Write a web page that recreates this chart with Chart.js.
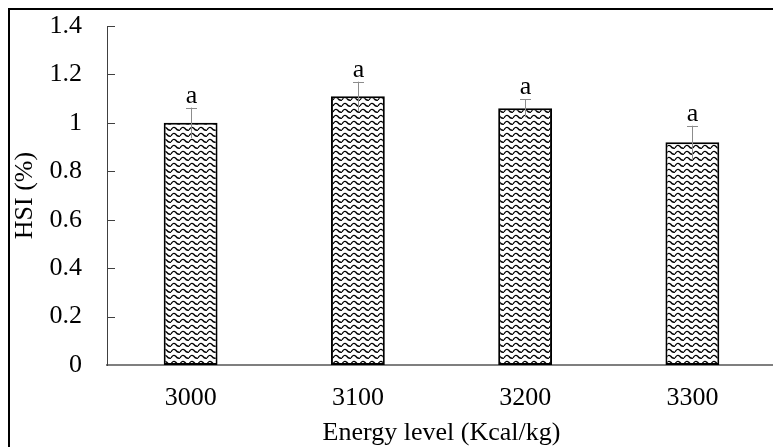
<!DOCTYPE html>
<html>
<head>
<meta charset="utf-8">
<script src="https://cdn.jsdelivr.net/npm/chart.js@4.4.0/dist/chart.umd.min.js"></script>
<style>
    html, body { margin: 0; padding: 0; background: #fff; overflow: hidden; }
    #wrap { position: relative; width: 773px; height: 447px; overflow: hidden; }
    #box { position: absolute; left: 8px; top: 8px; width: 800px; height: 500px; border: 2px solid #000; box-sizing: border-box; }
    #chart-holder { position: absolute; left: 0; top: 0; width: 790px; height: 447px; }
</style>
</head>
<body>
<div id="wrap">
    <div id="box"></div>
    <div id="chart-holder"><canvas id="hsiChart" width="790" height="447"></canvas></div>
</div>
<script>
// chart data
const energyLevels = ['3000', '3100', '3200', '3300'];
const hsiValues = [1.0, 1.11, 1.06, 0.92];
const hsiErrors = [0.063, 0.06, 0.037, 0.068];
const groupLetters = ['a', 'a', 'a', 'a'];
const yTicks = [0, 0.2, 0.4, 0.6, 0.8, 1, 1.2, 1.4];

const serif = '"Liberation Serif", "Times New Roman", serif';

// wavy fill pattern like the original bars
function makeWavePattern() {
    const c = document.createElement('canvas');
    c.width = 9;
    c.height = 6;
    const g = c.getContext('2d');
    g.fillStyle = '#fff';
    g.fillRect(0, 0, 9, 6);
    g.strokeStyle = '#000';
    g.lineWidth = 1.3;
    g.beginPath();
    g.moveTo(0, 4);
    g.quadraticCurveTo(2.25, 0, 4.5, 2);
    g.quadraticCurveTo(6.75, 5, 9, 4);
    g.stroke();
    return g.createPattern(c, 'repeat');
}

// error bars, letters and inside ticks
const extrasPlugin = {
    id: 'extras',
    afterDatasetsDraw(chart) {
        const ctx = chart.ctx;
        const x = chart.scales.x;
        const y = chart.scales.y;
        ctx.save();
        // y ticks pointing into the plot
        ctx.strokeStyle = '#404040';
        ctx.lineWidth = 1;
        yTicks.forEach(v => {
            const py = Math.round(y.getPixelForValue(v)) + 0.5;
            if (v === 0) return;
            ctx.beginPath();
            ctx.moveTo(x.left, py);
            ctx.lineTo(x.left + 8, py);
            ctx.stroke();
        });
        hsiValues.forEach((v, i) => {
            const cx = Math.round(x.getPixelForValue(i)) + 0.5;
            const top = y.getPixelForValue(v + hsiErrors[i]);
            const bot = y.getPixelForValue(v - hsiErrors[i]);
            ctx.strokeStyle = '#8c8c8c';
            ctx.lineWidth = 1;
            ctx.beginPath();
            ctx.moveTo(cx, top);
            ctx.lineTo(cx, bot);
            ctx.moveTo(cx - 5.5, Math.round(top) + 0.5);
            ctx.lineTo(cx + 5.5, Math.round(top) + 0.5);
            ctx.stroke();
            ctx.fillStyle = '#000';
            ctx.font = '26px ' + serif;
            ctx.textAlign = 'center';
            ctx.textBaseline = 'alphabetic';
            ctx.fillText(groupLetters[i], cx, top - 5);
        });
        ctx.restore();
    }
};

const ctx = document.getElementById('hsiChart');

new Chart(ctx, {
    type: 'bar',
    data: {
        labels: energyLevels,
        datasets: [{
            data: hsiValues,
            backgroundColor: makeWavePattern(),
            borderColor: '#000',
            borderWidth: 2,
            borderSkipped: false,
            barPercentage: 0.322,
            categoryPercentage: 1
        }]
    },
    options: {
        responsive: false,
        animation: false,
        layout: { padding: { left: 0, right: 14, top: 26, bottom: 0 } },
        plugins: {
            legend: { display: false },
            tooltip: { enabled: false }
        },
        scales: {
            x: {
                grid: { display: false, drawTicks: false },
                border: { display: true, color: '#7f7f7f', width: 2 },
                ticks: {
                    color: '#000',
                    padding: 18,
                    font: { family: serif, size: 26 }
                },
                title: {
                    display: true,
                    text: 'Energy level (Kcal/kg)',
                    color: '#000',
                    padding: { top: 0, bottom: -2 },
                    font: { family: serif, size: 26 }
                },
                afterFit(scale) {
                    scale.height = 82;
                    scale.paddingLeft = 0;
                    scale.paddingRight = 0;
                }
            },
            y: {
                min: 0,
                max: 1.4,
                afterBuildTicks(scale) {
                    scale.ticks = yTicks.map(v => ({ value: v }));
                },
                grid: { display: false, drawTicks: false },
                border: { display: true, color: '#404040', width: 1 },
                ticks: {
                    color: '#000',
                    padding: 25,
                    font: { family: serif, size: 26 },
                    callback: v => String(v)
                },
                title: {
                    display: true,
                    text: 'HSI (%)',
                    color: '#000',
                    padding: { top: 10, bottom: 0 },
                    font: { family: serif, size: 26 }
                },
                afterFit(scale) {
                    scale.width = 107;
                    scale.paddingTop = 0;
                    scale.paddingBottom = 0;
                }
            }
        }
    },
    plugins: [extrasPlugin]
});
</script>
</body>
</html>
